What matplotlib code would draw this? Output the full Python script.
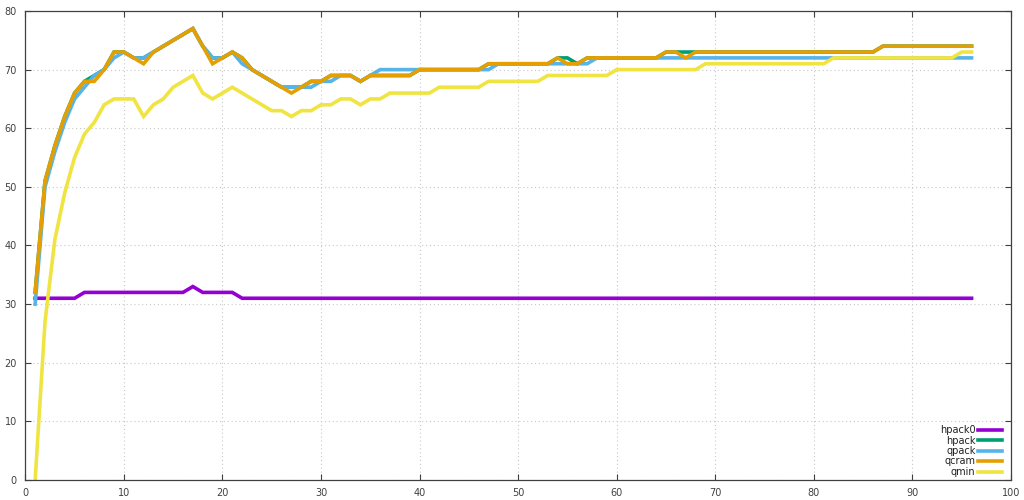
import matplotlib
matplotlib.use("Agg")
import matplotlib.pyplot as plt

# x positions (sample index)
steps = list(range(1, 97))

hpack0 = [31, 31, 31, 31, 31, 32, 32, 32, 32, 32,
          32, 32, 32, 32, 32, 32, 33, 32, 32, 32,
          32, 31, 31, 31, 31, 31, 31, 31, 31, 31,
          31, 31, 31, 31, 31, 31, 31, 31, 31, 31,
          31, 31, 31, 31, 31, 31, 31, 31, 31, 31,
          31, 31, 31, 31, 31, 31, 31, 31, 31, 31,
          31, 31, 31, 31, 31, 31, 31, 31, 31, 31,
          31, 31, 31, 31, 31, 31, 31, 31, 31, 31,
          31, 31, 31, 31, 31, 31, 31, 31, 31, 31,
          31, 31, 31, 31, 31, 31]

hpack = [32, 51, 57, 62, 66, 68, 69, 70, 73, 73,
         72, 72, 73, 74, 75, 76, 77, 74, 72, 72,
         73, 72, 70, 69, 68, 67, 67, 67, 68, 68,
         69, 69, 69, 68, 69, 69, 69, 69, 69, 70,
         70, 70, 70, 70, 70, 70, 71, 71, 71, 71,
         71, 71, 71, 72, 72, 71, 72, 72, 72, 72,
         72, 72, 72, 72, 73, 73, 73, 73, 73, 73,
         73, 73, 73, 73, 73, 73, 73, 73, 73, 73,
         73, 73, 73, 73, 73, 73, 74, 74, 74, 74,
         74, 74, 74, 74, 74, 74]

qpack = [30, 50, 56, 61, 65, 67, 69, 70, 72, 73,
         72, 72, 73, 74, 75, 76, 77, 74, 72, 72,
         73, 71, 70, 69, 68, 67, 67, 67, 67, 68,
         68, 69, 69, 68, 69, 70, 70, 70, 70, 70,
         70, 70, 70, 70, 70, 70, 70, 71, 71, 71,
         71, 71, 71, 71, 71, 71, 71, 72, 72, 72,
         72, 72, 72, 72, 72, 72, 72, 72, 72, 72,
         72, 72, 72, 72, 72, 72, 72, 72, 72, 72,
         72, 72, 72, 72, 72, 72, 72, 72, 72, 72,
         72, 72, 72, 72, 72, 72]

qcram = [32, 51, 57, 62, 66, 68, 68, 70, 73, 73,
         72, 71, 73, 74, 75, 76, 77, 74, 71, 72,
         73, 72, 70, 69, 68, 67, 66, 67, 68, 68,
         69, 69, 69, 68, 69, 69, 69, 69, 69, 70,
         70, 70, 70, 70, 70, 70, 71, 71, 71, 71,
         71, 71, 71, 72, 71, 71, 72, 72, 72, 72,
         72, 72, 72, 72, 73, 73, 72, 73, 73, 73,
         73, 73, 73, 73, 73, 73, 73, 73, 73, 73,
         73, 73, 73, 73, 73, 73, 74, 74, 74, 74,
         74, 74, 74, 74, 74, 74]

qmin = [0, 27, 41, 49, 55, 59, 61, 64, 65, 65,
        65, 62, 64, 65, 67, 68, 69, 66, 65, 66,
        67, 66, 65, 64, 63, 63, 62, 63, 63, 64,
        64, 65, 65, 64, 65, 65, 66, 66, 66, 66,
        66, 67, 67, 67, 67, 67, 68, 68, 68, 68,
        68, 68, 69, 69, 69, 69, 69, 69, 69, 70,
        70, 70, 70, 70, 70, 70, 70, 70, 71, 71,
        71, 71, 71, 71, 71, 71, 71, 71, 71, 71,
        71, 72, 72, 72, 72, 72, 72, 72, 72, 72,
        72, 72, 72, 72, 73, 73]

series = [
    ("hpack0", hpack0, "#9400d3"),
    ("hpack", hpack, "#009e73"),
    ("qpack", qpack, "#56b4e9"),
    ("qcram", qcram, "#e69f00"),
    ("qmin", qmin, "#f0e442"),
]

fig = plt.figure(figsize=(10.24, 5.0), dpi=100)
ax = fig.add_axes([0.0247, 0.04, 0.9626, 0.938])

for name, vals, col in series:
    ax.plot(steps, vals, color=col, linewidth=2.6, label=name,
            solid_joinstyle="miter")

ax.set_xlim(0, 100)
ax.set_ylim(0, 80)
ax.set_xticks(range(0, 101, 10))
ax.set_yticks(range(0, 81, 10))
ax.grid(True, linestyle=(0, (1, 2.5)), color="#c8c8c8", linewidth=0.8)
ax.tick_params(direction="in", length=4, width=0.8, color="#404040",
               labelsize=7, labelcolor="#404040", top=True, right=True,
               pad=6)
for sp in ax.spines.values():
    sp.set_color("#404040")
    sp.set_linewidth(0.9)

leg = ax.legend(loc="lower right", bbox_to_anchor=(0.997, -0.007),
                frameon=False, markerfirst=False, fontsize=7,
                handlelength=2.4, handletextpad=0.3, labelspacing=0.05,
                borderaxespad=0.25)
for t in leg.get_texts():
    t.set_color("#202020")

fig.savefig("out.png", dpi=100)
